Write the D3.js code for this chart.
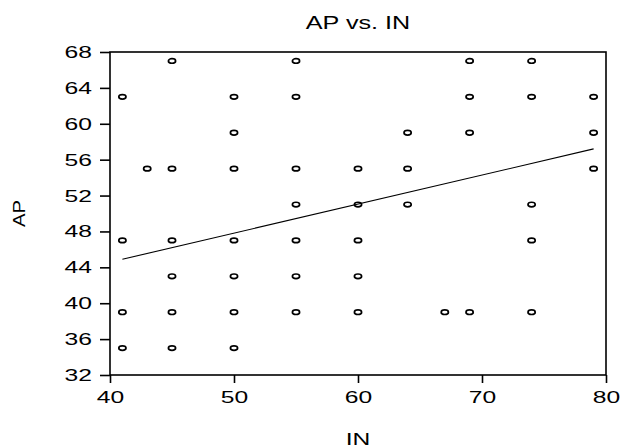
<!DOCTYPE html>
<html>
<head>
<meta charset="utf-8">
<script src="https://cdn.jsdelivr.net/npm/d3@7"></script>
<style>
  body { margin: 0; background: #fff; }
  svg { display: block; font-family: 'Liberation Sans', Arial, sans-serif; }
</style>
</head>
<body>
<div id="chart"></div>
<script>
// scatter data (IN on x, AP on y)
var inValues = [41, 41, 41, 41, 43, 45, 45, 45, 45, 45, 45,
  50, 50, 50, 50, 50, 50, 50, 55, 55, 55, 55, 55, 55, 55,
  60, 60, 60, 60, 60, 64, 64, 64, 67, 69, 69, 69, 69,
  74, 74, 74, 74, 74, 79, 79, 79];
var apValues = [63, 47, 39, 35, 55, 67, 55, 47, 43, 39, 35,
  63, 59, 55, 47, 43, 39, 35, 67, 63, 55, 51, 47, 43, 39,
  55, 51, 47, 43, 39, 59, 55, 51, 39, 67, 63, 59, 39,
  67, 63, 51, 47, 39, 63, 59, 55];

// fitted line end points
var fitX = [41, 79];
var fitY = [44.9, 57.2];

var xTicks = [40, 50, 60, 70, 80];
var yTicks = [32, 36, 40, 44, 48, 52, 56, 60, 64, 68];

var svgWidth = 623;
var svgHeight = 448;
var margin = { top: 52, right: 17, bottom: 73, left: 110 };
var chartWidth = svgWidth - margin.left - margin.right;
var chartHeight = svgHeight - margin.top - margin.bottom;

// the picture is wider than tall in its text, so glyphs get stretched
var stretch = 1.45;

var svg = d3.select('#chart')
  .append('svg')
  .attr('width', svgWidth)
  .attr('height', svgHeight);

var chartGroup = svg.append('g')
  .attr('transform', `translate(${margin.left}, ${margin.top})`);

var xScale = d3.scaleLinear().domain([40, 80]).range([0, chartWidth]);
var yScale = d3.scaleLinear().domain([32, 68]).range([chartHeight, 0]);

// frame
chartGroup.append('rect')
  .attr('x', 0)
  .attr('y', 0)
  .attr('width', chartWidth)
  .attr('height', chartHeight)
  .attr('fill', 'none')
  .attr('stroke', '#000')
  .attr('stroke-width', 1.6);

// axes
var bottomAxis = d3.axisBottom(xScale).tickValues(xTicks).tickSize(8).tickPadding(8);
var leftAxis = d3.axisLeft(yScale).tickValues(yTicks).tickSize(10).tickPadding(8);

var xAxis = chartGroup.append('g')
  .attr('transform', `translate(0, ${chartHeight})`)
  .call(bottomAxis);
var yAxis = chartGroup.append('g')
  .call(leftAxis);

[xAxis, yAxis].forEach(function(ax) {
  ax.select('.domain').remove();
  ax.selectAll('line').attr('stroke', '#000').attr('stroke-width', 1.6);
  ax.selectAll('text')
    .attr('fill', '#000')
    .style('font-size', '17px')
    .style('font-family', "'Liberation Sans', Arial, sans-serif");
});

// stretch tick labels sideways
yAxis.selectAll('text')
  .attr('x', -18 / stretch)
  .attr('transform', `scale(${stretch}, 1)`);
xAxis.selectAll('text')
  .attr('transform', `scale(${stretch}, 1)`);

// fitted line
var line = d3.line()
  .x(d => xScale(d[0]))
  .y(d => yScale(d[1]));

chartGroup.append('path')
  .datum(fitX.map((x, i) => [x, fitY[i]]))
  .attr('d', line)
  .attr('fill', 'none')
  .attr('stroke', '#000')
  .attr('stroke-width', 1.1);

// points
chartGroup.selectAll('ellipse')
  .data(inValues.map((x, i) => [x, apValues[i]]))
  .enter()
  .append('ellipse')
  .attr('cx', d => xScale(d[0]))
  .attr('cy', d => yScale(d[1]))
  .attr('rx', 3.6)
  .attr('ry', 2.3)
  .attr('fill', 'none')
  .attr('stroke', '#000')
  .attr('stroke-width', 1.7);

// title and axis labels
svg.append('text')
  .attr('transform', `translate(${margin.left + chartWidth / 2}, 29) scale(1.4, 1)`)
  .attr('text-anchor', 'middle')
  .style('font-size', '18px')
  .text('AP vs. IN');

svg.append('text')
  .attr('transform', `translate(${margin.left + chartWidth / 2}, 445) scale(${stretch}, 1)`)
  .attr('text-anchor', 'middle')
  .style('font-size', '17px')
  .text('IN');

svg.append('text')
  .attr('transform', `translate(25, ${margin.top + chartHeight / 2}) rotate(-90) scale(1.2, 1)`)
  .attr('text-anchor', 'middle')
  .style('font-size', '17px')
  .text('AP');
</script>
</body>
</html>
